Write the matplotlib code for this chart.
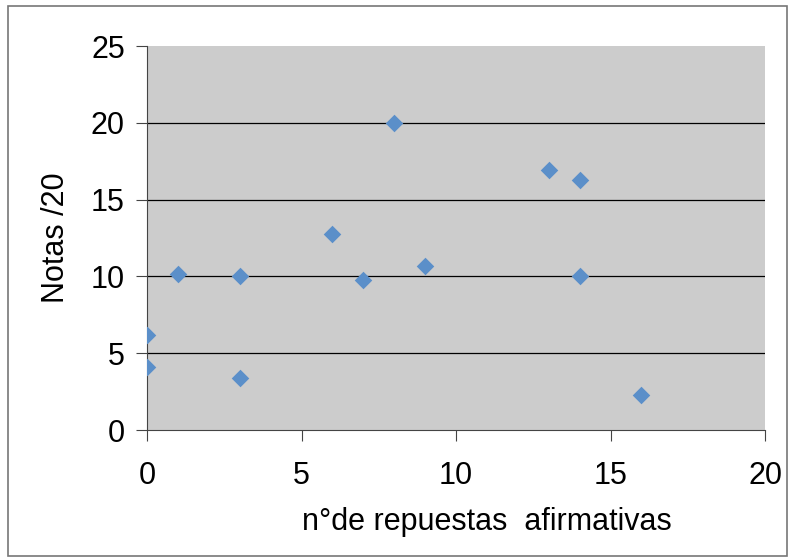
import matplotlib
matplotlib.use('Agg')
import matplotlib.pyplot as plt
from matplotlib.patches import Rectangle

# datos
respuestas = [0, 0, 1, 3, 3, 6, 7, 8, 9, 13, 14, 14, 16]
notas = [6.2, 4.1, 10.15, 10.0, 3.4, 12.75, 9.75, 20.0, 10.7, 16.9, 16.3, 10.0, 2.25]

plt.rcParams['font.family'] = ['Liberation Sans', 'DejaVu Sans']
plt.rcParams.update({'font.size': 22})

fig = plt.figure(figsize=(7.95, 5.6), dpi=100)
ax = fig.add_axes([147/795, 1-430/560, (765-147)/795, (430-46)/560])
fig.patches.append(Rectangle((8/795, 4/560), 779/795, 550/560, transform=fig.transFigure,
                             fill=False, edgecolor='#777777', linewidth=1.2))

ax.set_facecolor('#cccccc')
ax.scatter(respuestas, notas, marker='D', s=80, color='#5b8fc9', zorder=3, linewidths=0)

ax.set_xlim(0, 20)
ax.set_ylim(0, 25)
ax.set_xticks([0, 5, 10, 15, 20])
ax.set_yticks([0, 5, 10, 15, 20, 25])
for y in [5, 10, 15, 20]:
    ax.axhline(y, color='black', linewidth=0.9, zorder=1)

ax.spines['top'].set_visible(False)
ax.spines['right'].set_visible(False)
ax.spines['left'].set_color('#444444')
ax.spines['bottom'].set_color('#444444')
ax.tick_params(direction='out', length=8, color='#444444', pad=8)
ax.tick_params(axis='x', pad=14)

ax.set_xlabel('n°de repuestas  afirmativas', labelpad=12)
ax.xaxis.set_label_coords(0.55, -0.2)
ax.set_ylabel('Notas /20', labelpad=14)

fig.savefig('out.png', dpi=100)
